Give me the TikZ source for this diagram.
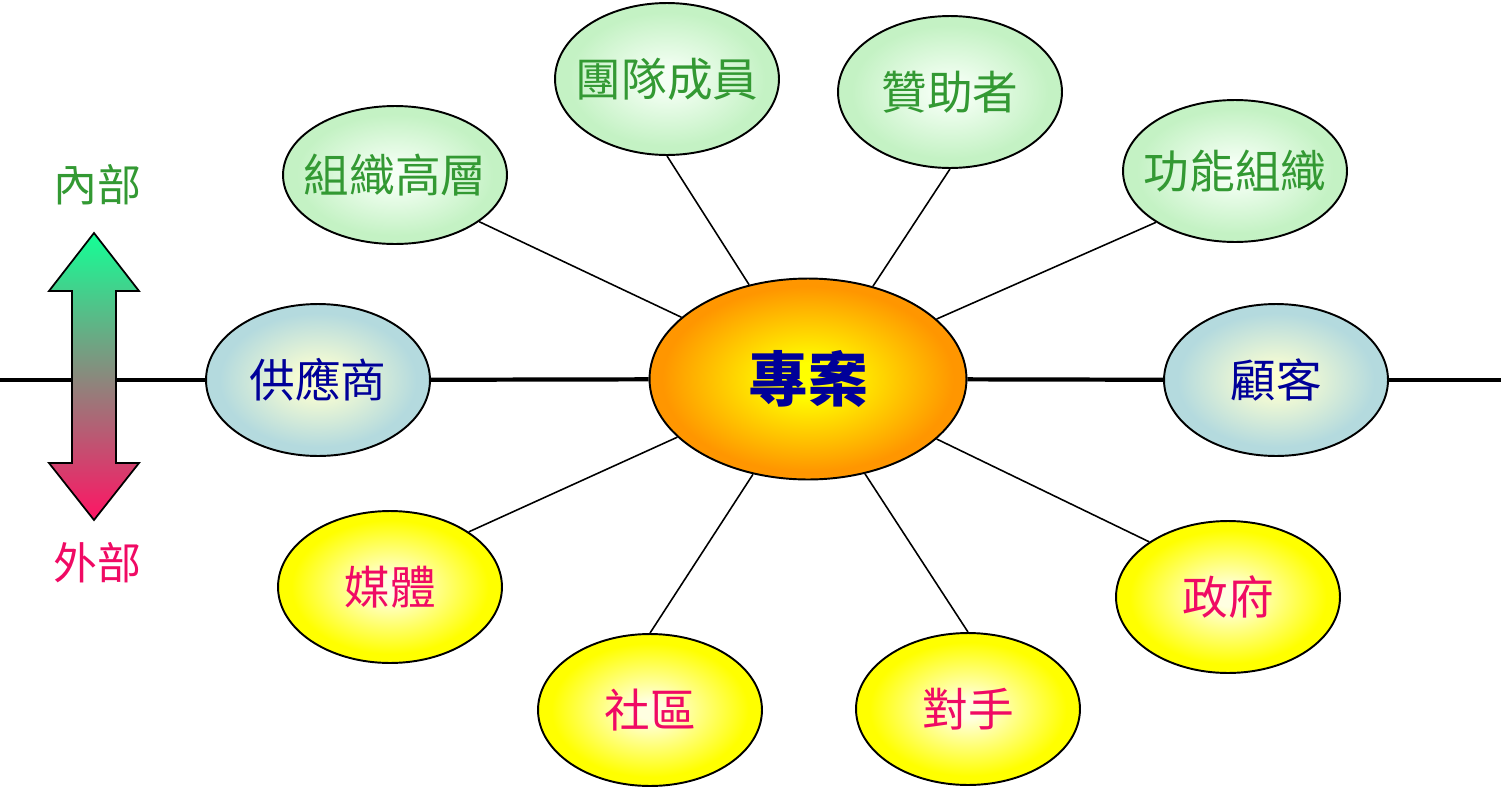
\documentclass[tikz,border=0pt]{standalone}
\usepackage{fontspec}
\newfontfamily\cjk{Noto Sans CJK TC}
\usetikzlibrary{shapes.geometric}
\definecolor{hubcore}{RGB}{255,255,0}
\definecolor{hubrim}{RGB}{255,150,0}
\definecolor{insidecore}{RGB}{245,255,245}
\definecolor{insiderim}{RGB}{196,242,196}
\definecolor{bordercore}{RGB}{252,255,210}
\definecolor{borderrim}{RGB}{180,218,222}
\definecolor{outsidecore}{RGB}{255,255,225}
\definecolor{outsiderim}{RGB}{255,255,0}
\definecolor{insideink}{RGB}{51,153,51}
\definecolor{borderink}{RGB}{0,0,153}
\definecolor{outsideink}{RGB}{240,10,100}
\definecolor{arrowtop}{RGB}{20,255,150}
\definecolor{arrowbottom}{RGB}{255,20,100}
\pgfdeclareradialshading{hubglow}{\pgfpointorigin}{color(0bp)=(hubcore); color(4bp)=(hubcore); color(23bp)=(hubrim); color(50bp)=(hubrim)}
\pgfdeclareradialshading{insideglow}{\pgfpointorigin}{color(0bp)=(insidecore); color(3bp)=(insidecore); color(22bp)=(insiderim); color(50bp)=(insiderim)}
\pgfdeclareradialshading{borderglow}{\pgfpointorigin}{color(0bp)=(bordercore); color(3bp)=(bordercore); color(22bp)=(borderrim); color(50bp)=(borderrim)}
\pgfdeclareradialshading{outsideglow}{\pgfpointorigin}{color(0bp)=(outsidecore); color(3bp)=(outsidecore); color(22bp)=(outsiderim); color(50bp)=(outsiderim)}
\begin{document}
\begin{tikzpicture}[x=0.02cm, y=-0.02cm,
  bubble/.style={ellipse, draw=black, line width=1.1pt, inner xsep=-3cm, inner ysep=0pt,
                 minimum width=4.48cm, minimum height=3.04cm,
                 font=\cjk\fontsize{26}{30}\selectfont},
  innerbubble/.style={bubble, shading=insideglow, text=insideink},
  edgebubble/.style={bubble, shading=borderglow, text=borderink},
  outerbubble/.style={bubble, shading=outsideglow, text=outsideink},
  hub/.style={ellipse, draw=black, line width=1.1pt, inner sep=0pt,
              minimum width=6.34cm, minimum height=4.02cm, shading=hubglow,
              text=borderink, font=\cjk\bfseries\fontsize{34}{40}\selectfont},
  sidelabel/.style={font=\cjk\fontsize{25}{30}\selectfont},
  spoke/.style={line width=0.9pt, black},
  axis/.style={line width=2.4pt, black}
]
\useasboundingbox (0,0) rectangle (1501,788);
\node[hub] (proj) at (808,379) {專案};
\node[edgebubble] (supplier) at (318,380) {供應商};
\node[edgebubble] (customer) at (1276,380) {顧客};
\node[innerbubble, minimum height=2.76cm] (topmgmt) at (395,175) {組織高層};
\node[innerbubble] (team) at (667,79) {團隊成員};
\node[innerbubble] (sponsor) at (950,92) {贊助者};
\node[innerbubble, minimum height=2.84cm] (funcorg) at (1235,171) {功能組織};
\node[outerbubble] (media) at (390,587) {媒體};
\node[outerbubble] (community) at (650,710) {社區};
\node[outerbubble] (rival) at (968,709) {對手};
\node[outerbubble] (govt) at (1228,597) {政府};
% spokes
\draw[spoke] (proj.154) -- (topmgmt.-29);
\draw[spoke] (proj.122) -- (team.-90);
\draw[spoke] (proj.55) -- (sponsor.-90);
\draw[spoke] (proj.25) -- (funcorg.-147);
\draw[spoke] (proj.204) -- (media.35);
\draw[spoke] (proj.240) -- (community.90);
\draw[spoke] (proj.-59) -- (rival.90);
\draw[spoke] (proj.-25) -- (govt.145);
% inside / outside axis
\coordinate (leftend) at (0,380);
\coordinate (rightend) at (1501,380);
\draw[axis] (leftend) -- (supplier);
\draw[axis] (supplier) -- (proj);
\draw[axis] (proj) -- (customer);
\draw[axis] (customer) -- (rightend);
\shade[top color=arrowtop, bottom color=arrowbottom, draw=black, line width=1pt]
  (94,233) -- (139,291) -- (116,291) -- (116,463) -- (139,463) -- (94,520)
  -- (49,463) -- (72,463) -- (72,291) -- (49,291) -- cycle;
\node[sidelabel, text=insideink] (inside) at (97,185) {內部};
\node[sidelabel, text=outsideink] (outside) at (97,563) {外部};
\end{tikzpicture}
\end{document}
